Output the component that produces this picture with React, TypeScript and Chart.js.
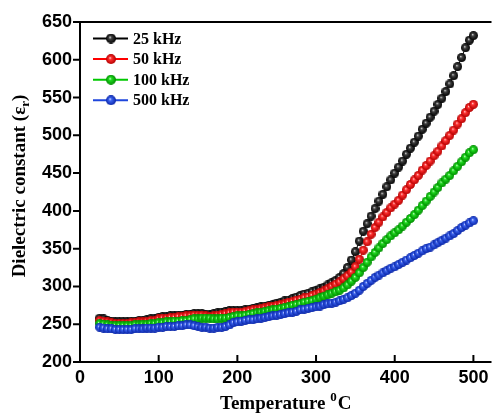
import React, { useEffect, useRef } from 'react';
import { Chart, registerables } from 'chart.js';

Chart.register(...registerables);

// Temperature (°C)
const temps = [
  25, 30, 35, 40, 45, 50, 55, 60, 65, 70,
  75, 80, 85, 90, 95, 100, 105, 110, 115, 120,
  125, 130, 135, 140, 145, 150, 155, 160, 165, 170,
  175, 180, 185, 190, 195, 200, 205, 210, 215, 220,
  225, 230, 235, 240, 245, 250, 255, 260, 265, 270,
  275, 280, 285, 290, 295, 300, 305, 310, 315, 320,
  325, 330, 335, 340, 345, 350, 355, 360, 365, 370,
  375, 380, 385, 390, 395, 400, 405, 410, 415, 420,
  425, 430, 435, 440, 445, 450, 455, 460, 465, 470,
  475, 480, 485, 490, 495, 500,
];

const eps25k = [
  258, 257, 255, 254, 253, 253, 253, 253, 254, 254,
  255, 255, 256, 257, 257, 259, 260, 260, 261, 261,
  262, 262, 263, 263, 264, 264, 264, 263, 263, 264,
  265, 266, 267, 268, 268, 268, 268, 269, 270, 271,
  272, 273, 274, 275, 276, 278, 279, 281, 282, 284,
  286, 288, 290, 291, 293, 295, 297, 299, 302, 305,
  308, 312, 317, 325, 335, 346, 360, 373, 383, 393,
  403, 413, 422, 432, 441, 450, 458, 466, 475, 483,
  491, 499, 508, 516, 524, 532, 541, 549, 558, 568,
  579, 591, 603, 616, 626, 632,
];

const eps50k = [
  255, 254, 253, 252, 251, 251, 251, 251, 252, 252,
  253, 253, 254, 255, 255, 257, 258, 258, 259, 259,
  260, 260, 261, 261, 262, 262, 262, 261, 260, 261,
  262, 263, 264, 265, 266, 266, 266, 267, 268, 269,
  270, 271, 272, 273, 274, 275, 276, 277, 279, 280,
  282, 283, 285, 286, 288, 290, 292, 294, 297, 300,
  303, 306, 310, 314, 319, 326, 336, 348, 359, 369,
  378, 385, 392, 398, 404, 409, 414, 421, 428, 435,
  441, 447, 454, 460, 466, 473, 479, 486, 493, 500,
  507, 515, 522, 530, 537, 541,
];

const eps100k = [
  251, 250, 249, 248, 248, 248, 248, 248, 248, 249,
  249, 250, 250, 251, 251, 252, 252, 253, 253, 254,
  254, 255, 255, 256, 257, 257, 258, 258, 258, 257,
  257, 258, 258, 259, 260, 261, 261, 262, 263, 264,
  265, 266, 267, 268, 269, 270, 271, 272, 273, 275,
  276, 277, 279, 280, 281, 283, 285, 287, 289, 291,
  293, 295, 298, 302, 307, 312, 318, 325, 332, 339,
  345, 351, 357, 362, 367, 371, 375, 380, 385, 390,
  395, 401, 407, 413, 419, 425, 431, 437, 442, 447,
  453, 459, 465, 471, 477, 481,
];

const eps500k = [
  246, 245, 244, 244, 243, 243, 243, 243, 243, 244,
  244, 244, 245, 245, 245, 246, 246, 247, 247, 247,
  248, 248, 249, 249, 248, 247, 246, 246, 245, 245,
  246, 246, 247, 249, 252, 253, 254, 255, 256, 256,
  257, 258, 259, 260, 261, 262, 263, 264, 265, 266,
  267, 269, 270, 271, 272, 273, 274, 276, 277, 278,
  279, 281, 283, 285, 288, 291, 295, 300, 304, 308,
  312, 315, 318, 321, 324, 326, 329, 332, 335, 338,
  341, 344, 347, 350, 352, 355, 358, 361, 364, 367,
  370, 374, 378, 381, 384, 387,
];

const seriesNames = ['25 kHz', '50 kHz', '100 kHz', '500 kHz'];
const seriesValues = [eps25k, eps50k, eps100k, eps500k];
const seriesColors = ['#000000', '#ff0000', '#00c800', '#1e46dc'];
const seriesMids = ['#404040', '#ff3030', '#20dc20', '#3c64f0'];
const seriesLights = ['#f0f0f0', '#ffe0e0', '#e0ffe0', '#e0e6ff'];
const seriesDarks = ['#000000', '#b40000', '#008c00', '#0a26a8'];

function makeBall(mid: string, light: string, dark: string, d: number) {
  const c = document.createElement('canvas');
  c.width = d;
  c.height = d;
  const ctx = c.getContext('2d')!;
  const r = d / 2;
  const g = ctx.createRadialGradient(r * 0.8, r * 0.75, 0, r, r, r);
  g.addColorStop(0, light);
  g.addColorStop(0.3, mid);
  g.addColorStop(1, dark);
  ctx.fillStyle = g;
  ctx.beginPath();
  ctx.arc(r, r, r, 0, Math.PI * 2);
  ctx.fill();
  return c;
}

export default function App() {
  const ref = useRef<HTMLCanvasElement>(null);

  useEffect(() => {
    document.body.style.margin = '0';
    const dataBalls = seriesMids.map((c, i) => makeBall(c, seriesLights[i], seriesDarks[i], 9));
    const legendBalls = seriesMids.map((c, i) => makeBall(c, seriesLights[i], seriesDarks[i], 10));

    const decor = {
      id: 'decor',
      afterDraw(chart: any) {
        const ctx = chart.ctx as CanvasRenderingContext2D;
        const { left, top, right, bottom } = chart.chartArea;
        const xs = chart.scales.x;
        const ys = chart.scales.y;
        ctx.save();
        ctx.strokeStyle = '#000';
        ctx.lineWidth = 2;
        ctx.beginPath();
        ctx.moveTo(left, top - 1);
        ctx.lineTo(left, bottom + 1);
        ctx.moveTo(left - 1, top);
        ctx.lineTo(right, top);
        ctx.moveTo(left - 1, bottom);
        ctx.lineTo(right, bottom);
        ys.ticks.forEach((t: any) => {
          const py = ys.getPixelForValue(t.value);
          ctx.moveTo(left - 7, py);
          ctx.lineTo(left, py);
        });
        xs.ticks.forEach((t: any) => {
          const px = xs.getPixelForValue(t.value);
          ctx.moveTo(px, bottom);
          ctx.lineTo(px, bottom - 7);
        });
        ctx.stroke();

        // legend
        ctx.font = 'bold 16px "Liberation Serif", "Times New Roman", serif';
        ctx.textBaseline = 'middle';
        ctx.textAlign = 'left';
        seriesNames.forEach((name, i) => {
          const cy = 38.5 + 20.6 * i;
          ctx.strokeStyle = seriesColors[i];
          ctx.lineWidth = 2;
          ctx.beginPath();
          ctx.moveTo(93, cy);
          ctx.lineTo(128, cy);
          ctx.stroke();
          ctx.drawImage(legendBalls[i], 111 - 5, cy - 5);
          ctx.fillStyle = '#000';
          ctx.fillText(name, 133, cy + 1);
        });

        // x title
        ctx.fillStyle = '#000';
        ctx.textBaseline = 'alphabetic';
        const mainFont = 'bold 19px "Liberation Serif", "Times New Roman", serif';
        const smallFont = 'bold 13px "Liberation Serif", "Times New Roman", serif';
        ctx.font = mainFont;
        const t1 = 'Temperature ';
        const t3 = 'C';
        const w1 = ctx.measureText(t1).width;
        const w3 = ctx.measureText(t3).width;
        ctx.font = smallFont;
        const w2 = ctx.measureText('0').width + 1;
        const totalX = w1 + w2 + w3;
        const cx = (left + right) / 2;
        const sx = cx - totalX / 2;
        ctx.font = mainFont;
        ctx.fillText(t1, sx, 409);
        ctx.font = smallFont;
        ctx.fillText('0', sx + w1, 401);
        ctx.font = mainFont;
        ctx.fillText(t3, sx + w1 + w2, 409);

        // y title
        const p1 = 'Dielectric constant (\u03b5';
        const p2 = 'r';
        const p3 = ')';
        ctx.font = mainFont;
        const q1 = ctx.measureText(p1).width;
        const q3 = ctx.measureText(p3).width;
        ctx.font = smallFont;
        const q2 = ctx.measureText(p2).width;
        const totalY = q1 + q2 + q3;
        ctx.translate(25, 186 + totalY / 2);
        ctx.rotate(-Math.PI / 2);
        ctx.font = mainFont;
        ctx.fillText(p1, 0, 0);
        ctx.font = smallFont;
        ctx.fillText(p2, q1, 4);
        ctx.font = mainFont;
        ctx.fillText(p3, q1 + q2, 0);
        ctx.restore();
      },
    };

    const tickFont = { family: '"Liberation Sans", Arial, sans-serif', size: 18, weight: 'bold' as const };

    const chart = new Chart(ref.current!, {
      type: 'line',
      data: {
        datasets: seriesNames.map((name, i) => ({
          label: name,
          data: temps.map((t, k) => ({ x: t, y: seriesValues[i][k] })),
          borderColor: seriesColors[i],
          backgroundColor: seriesColors[i],
          borderWidth: 1,
          pointStyle: dataBalls[i] as any,
          pointRadius: 4.5,
          order: 3 - i,
          tension: 0,
        })),
      },
      options: {
        animation: false,
        responsive: true,
        maintainAspectRatio: false,
        layout: { padding: { top: 22, left: 0, right: 0, bottom: 0 } },
        plugins: { legend: { display: false }, tooltip: { enabled: false } },
        scales: {
          x: {
            type: 'linear',
            min: 0,
            max: 523,
            grid: { display: false, drawTicks: false },
            border: { display: false },
            ticks: {
              stepSize: 100,
              includeBounds: false,
              color: '#000',
              font: tickFont,
              padding: 5,
              maxRotation: 0,
            },
            afterFit: (s: any) => {
              s.height = 52;
            },
          },
          y: {
            type: 'linear',
            min: 200,
            max: 650,
            grid: { display: false, drawTicks: false },
            border: { display: false },
            ticks: {
              stepSize: 50,
              color: '#000',
              font: tickFont,
              padding: 8,
            },
            afterFit: (s: any) => {
              s.width = 80;
            },
          },
        },
      },
      plugins: [decor],
    });
    return () => chart.destroy();
  }, []);

  return (
    <div style={{ width: 497, height: 414, position: 'relative' }}>
      <canvas ref={ref} />
    </div>
  );
}
